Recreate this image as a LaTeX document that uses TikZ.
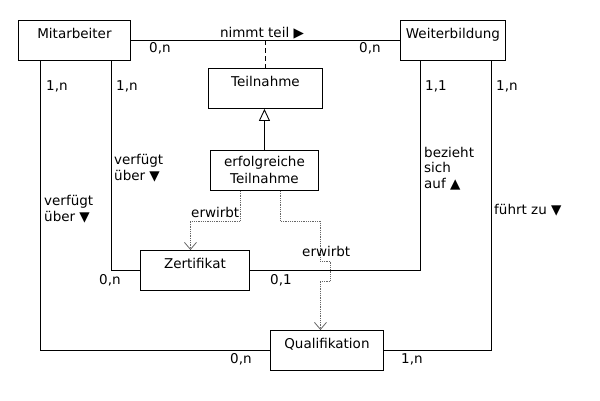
\documentclass[tikz,border=0pt]{standalone}
\usepackage{fontspec}
\setmainfont{DejaVu Sans}
\usetikzlibrary{arrows.meta}
\begin{document}
\begin{tikzpicture}[x=1pt,y=-1pt,
  every node/.style={font=\fontsize{13.5}{17}\selectfont},
  cls/.style={draw, line width=0.9pt, anchor=north west, minimum height=40pt,
     text height=14pt, text depth=18pt, inner ysep=4pt, inner xsep=2pt},
  cls2/.style={draw, line width=0.9pt, anchor=north west, minimum height=40pt,
     align=center, inner xsep=2pt, inner ysep=2pt},
  conn/.style={line width=0.9pt},
  dep/.style={densely dotted, gray!80!black, line width=0.8pt,
     -{Straight Barb[length=7pt,width=12pt]}},
  lbl/.style={inner sep=0pt, anchor=base west},
  lblm/.style={inner sep=0pt, anchor=base west, align=left,
     font=\fontsize{13.5}{15.5}\selectfont},
  lblc/.style={inner sep=0pt, anchor=base, align=center}
]
\useasboundingbox (0,0) rectangle (600,400);
\fill[white] (0,0) rectangle (600,400);

\node[cls, minimum width=112pt] (m) at (18,20) {Mitarbeiter};
\node[cls, minimum width=105pt] (w) at (400,20) {Weiterbildung};
\node[cls, minimum width=114pt] (t) at (208,68) {Teilnahme};
\node[cls2, minimum width=108pt] (e) at (210,150) {erfolgreiche\\Teilnahme};
\node[cls, minimum width=109pt] (z) at (140,250) {Zertifikat};
\node[cls, minimum width=113pt] (q) at (270,330) {Qualifikation};

% associations
\draw[conn] (m.east) -- (w.west);
\draw[conn, dashed, dash pattern=on 5pt off 3pt] (t.north |- m.east) -- (t.north);
\draw[conn] ([xshift=-34pt]m.south) |- (q.west);
\draw[conn] ([xshift=37pt]m.south) |- (z.west);
\draw[conn] ([xshift=-32.5pt]w.south) |- (z.east);
\draw[conn] ([xshift=38.5pt]w.south) |- (q.east);

% generalization
\draw[conn, -{Triangle[open, length=12pt, width=11pt]}] (e.north) -- (e.north |- t.south);

% dependencies
\draw[dep] ([xshift=-24pt]e.south) -- ++(0,30) -| ([xshift=-4.5pt]z.north);
\draw[dep] ([xshift=16pt]e.south) -- ++(0,30) -- ++(40,0) -- ++(0,40) -- ++(10,0)
   -- ++(0,20) -- ++(-10,0) -- ([xshift=-6.5pt]q.north);

% labels
\node[lblc] (l1) at (262,37) {nimmt teil ▶};
\node[lbl] (l2) at (149,52) {0,n};
\node[lbl] (l3) at (359,52) {0,n};
\node[lbl] (l4) at (46,90) {1,n};
\node[lbl] (l5) at (116,90) {1,n};
\node[lbl] (l6) at (425,90) {1,1};
\node[lbl] (l7) at (496,90) {1,n};
\node[lblm] (l8) at (114,180) {verfügt\\über ▼};
\node[lblm] (l9) at (44,221) {verfügt\\über ▼};
\node[lblm] (l10) at (424,188) {bezieht\\sich\\auf ▲};
\node[lbl] (l11) at (494,214) {führt zu ▼};
\node[lbl] (l12) at (191,217) {erwirbt};
\node[lbl] (l13) at (302,256) {erwirbt};
\node[lbl] (l14) at (99,284) {0,n};
\node[lbl] (l15) at (270,284) {0,1};
\node[lbl] (l16) at (230,363) {0,n};
\node[lbl] (l17) at (401,363) {1,n};
\end{tikzpicture}
\end{document}
